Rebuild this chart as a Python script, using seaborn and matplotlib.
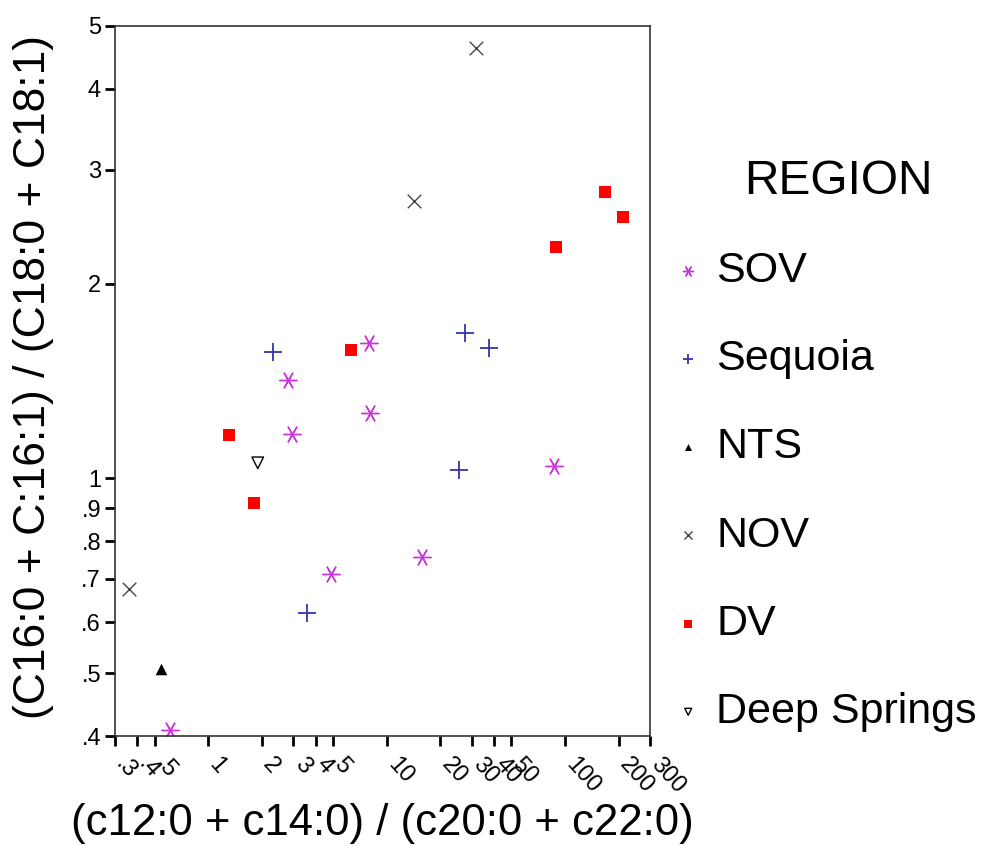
import matplotlib
matplotlib.use("Agg")
import matplotlib.pyplot as plt
import matplotlib.transforms as mtransforms
import seaborn as sns
import pandas as pd

# ---- data ----
regions = ["SOV", "Sequoia", "NTS", "NOV", "DV", "Deep Springs"]

sov_x = [0.61, 2.79, 2.93, 7.96, 8.04, 4.91, 15.9, 86.8]
sov_y = [0.408, 1.42, 1.17, 1.62, 1.26, 0.712, 0.755, 1.047]
seq_x = [2.32, 3.56, 27.6, 37.5, 25.6]
seq_y = [1.57, 0.62, 1.68, 1.59, 1.029]
nts_x = [0.544]
nts_y = [0.508]
nov_x = [0.359, 14.3, 31.9]
nov_y = [0.675, 2.68, 4.62]
dv_x = [1.315, 1.81, 6.29, 89.1, 167, 211]
dv_y = [1.165, 0.915, 1.58, 2.28, 2.77, 2.53]
ds_x = [1.895]
ds_y = [1.057]

xticks = [0.3, 0.4, 0.5, 1, 2, 3, 4, 5, 10, 20, 30, 40, 50, 100, 200, 300]
xticklabels = [".3", ".4", ".5", "1", "2", "3", "4", "5", "10", "20", "30", "40", "50", "100", "200", "300"]
yticks = [0.4, 0.5, 0.6, 0.7, 0.8, 0.9, 1, 2, 3, 4, 5]
yticklabels = [".4", ".5", ".6", ".7", ".8", ".9", "1", "2", "3", "4", "5"]

xs = [sov_x, seq_x, nts_x, nov_x, dv_x, ds_x]
ys = [sov_y, seq_y, nts_y, nov_y, dv_y, ds_y]
rows = []
for r, xv, yv in zip(regions, xs, ys):
    for a, b in zip(xv, yv):
        rows.append({"region": r, "x": a, "y": b})
df = pd.DataFrame(rows)

sns.set_theme(style="white")
plt.rcParams["font.family"] = ["Liberation Sans", "DejaVu Sans"]
plt.rcParams["text.color"] = "black"
plt.rcParams["axes.labelcolor"] = "black"
plt.rcParams["xtick.color"] = "black"
plt.rcParams["ytick.color"] = "black"

fig = plt.figure(figsize=(9.86, 8.46), dpi=100)
ax = fig.add_axes([115 / 986, 1 - 736 / 846, (650 - 115) / 986, (736 - 26) / 846])

styles = {
    "SOV": dict(marker=(6, 2, 90), color="#cc33dd", s=150, linewidth=1.0),
    "Sequoia": dict(marker="+", color="#3333b0", s=160, linewidth=1.3),
    "NTS": dict(marker="^", color="black", s=70, linewidth=0),
    "NOV": dict(marker="x", color="#444444", s=95, linewidth=1.0),
    "DV": dict(marker="s", color="#ff0000", s=75, linewidth=0),
    "Deep Springs": dict(marker="v", color="black", facecolor="none",
                         edgecolor="black", s=70, linewidth=1.0),
}

for r in regions:
    sub = df[df["region"] == r]
    sns.scatterplot(data=sub, x="x", y="y", ax=ax, label=r, **styles[r])

ax.set_xscale("log")
ax.set_yscale("log")
ax.set_xlim(0.3, 300)
ax.set_ylim(0.4, 5)
ax.minorticks_off()
ax.set_xticks(xticks)
ax.set_xticklabels(xticklabels, rotation=-48, ha="left", rotation_mode="anchor")
ax.set_yticks(yticks)
ax.set_yticklabels(yticklabels)
ax.tick_params(axis="both", which="major", direction="out", length=7, width=2,
               color="black", labelsize=17, left=True, bottom=True)
ax.tick_params(axis="x", pad=8)
ax.tick_params(axis="y", pad=3)
offset = mtransforms.ScaledTranslation(13 / 100, 3 / 100, fig.dpi_scale_trans)
for lbl in ax.get_xticklabels():
    lbl.set_transform(lbl.get_transform() + offset)
for sp in ax.spines.values():
    sp.set_color("#333333")
    sp.set_linewidth(1.2)

ax.set_xlabel("(c12:0 + c14:0) / (c20:0 + c22:0)", fontsize=31.5)
ax.set_ylabel("(C16:0 + C:16:1) / (C18:0 + C18:1)", fontsize=32)
ax.xaxis.set_label_coords(0.5, (736 - 803) / 710)
ax.yaxis.set_label_coords((54 - 115) / 535, 0.505)

handles, labels = ax.get_legend_handles_labels()
ax.get_legend().remove()
leg = fig.legend(handles, labels, loc="upper left",
                 bbox_to_anchor=(671 / 986, 1 - 251 / 846), frameon=False,
                 fontsize=31, markerscale=0.6,
                 borderpad=0, borderaxespad=0,
                 handlelength=0.8, handletextpad=0.25, labelspacing=1.12)
fig.text(838 / 986, 1 - 181 / 846, "REGION", fontsize=34.5,
         ha="center", va="center")

fig.savefig("out.png", dpi=100)
